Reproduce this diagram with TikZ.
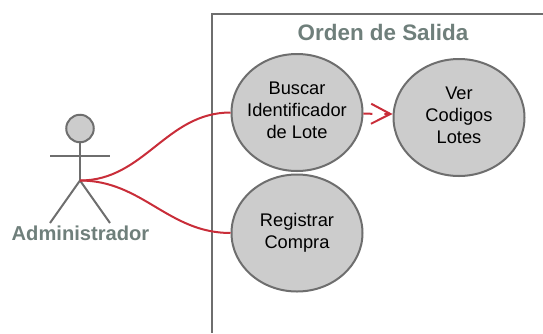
\documentclass[tikz,border=0pt]{standalone}
\usepackage{fontspec}
\setmainfont{Liberation Sans}
\usetikzlibrary{arrows.meta,shapes.geometric}
\definecolor{linegray}{HTML}{6E6E6E}
\definecolor{titlegray}{HTML}{6F7F7B}
\definecolor{usered}{HTML}{C92D39}
\definecolor{fillgray}{HTML}{CCCCCC}
\newcommand{\pxu}{*0.75pt}
\tikzset{
  usecase/.style={draw=linegray,line width=1.5pt,fill=fillgray,ellipse,minimum width=131\pxu,minimum height=117\pxu,inner sep=-10pt,align=center,font=\fontsize{13.7}{16.5}\selectfont},
  title/.style={text=titlegray,font=\fontsize{16.8}{18}\selectfont\bfseries},
  link/.style={draw=usered,line width=1.5pt},
  stick/.style={draw=linegray,line width=1.5pt}
}
\begin{document}
\begin{tikzpicture}[x=0.75pt,y=-0.75pt]
      \useasboundingbox (0,0) rectangle (543,333);
      \draw [stick] (543,13.5) -- (211.5,13.5) -- (211.5,333);
      \node [title] (frametitle) at (383,32) {Orden de Salida};
      \node [usecase,text depth=3pt] (buscar) at (297,112.5) {Buscar\\Identificador\\de Lote};
      \node [usecase,text depth=3pt] (ver) at (459,117.5) {Ver\\Codigos\\Lotes};
      \node [usecase] (registrar) at (297,233) {Registrar\\Compra};
      \node [circle,stick,fill=fillgray,minimum size=27.5\pxu,inner sep=0pt] (head) at (80,128.5) {};
      \coordinate (hip) at (80,180.5);
      \coordinate (handl) at (50,155.5);
      \coordinate (handr) at (110,155.5);
      \coordinate (footl) at (50,223);
      \coordinate (footr) at (110,223);
      \draw [stick] (head) -- (hip);
      \draw [stick] (handl) -- (handr);
      \draw [stick] (footl) -- (hip) -- (footr);
      \node [title,font=\fontsize{15.1}{16}\selectfont\bfseries] (actor) at (80.5,233.5) {Administrador};
      \draw [link] (hip) to [out=0,in=180] (buscar.west);
      \draw [link] (hip) to [out=0,in=180] (registrar.west);
      \draw [link,dash pattern=on 9\pxu off 12\pxu,-{Straight Barb[length=14.5pt,width=15pt,line width=1.5pt]}] (buscar.-1) -- (ver.177);
    \end{tikzpicture}
\end{document}
